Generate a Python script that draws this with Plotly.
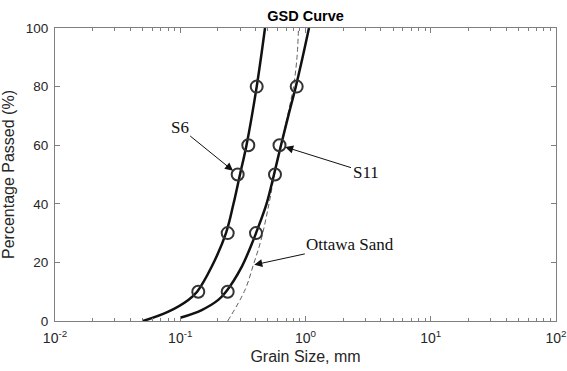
import math
import plotly.graph_objects as go

# ---- data ----
s6_curve_d = [0.0505, 0.0803, 0.116, 0.1363, 0.178, 0.2318, 0.2661, 0.2999, 0.338, 0.4077, 0.475]
s6_curve_p = [0, 3.2, 7.2, 10, 18.5, 30, 40, 50, 60, 80, 100]
s6_pts_d = [0.1393, 0.2392, 0.2875, 0.3495, 0.4077]
s6_pts_p = [10, 30, 50, 60, 80]

s11_curve_d = [0.100, 0.1483, 0.2012, 0.2318, 0.3094, 0.383, 0.4025,
               0.4884, 0.5604, 0.6374, 0.7290, 0.8369, 0.9482, 1.066]
s11_curve_p = [1.1, 3.75, 7.2, 10, 18.5, 27.6, 30,
               40, 50, 60, 70, 80, 90, 100]
s11_pts_d = [0.2392, 0.4025, 0.5707, 0.6200, 0.8505]
s11_pts_p = [10, 30, 50, 60, 80]

ottawa_d = [0.2392, 0.3289, 0.3830, 0.4413, 0.5112, 0.5655, 0.6374, 0.7184, 0.8020, 0.8554, 0.8792]
ottawa_p = [0, 10.6, 19.1, 27.6, 40, 50, 60, 70, 80, 90, 100]

x_tickvals = [0.01, 0.1, 1, 10, 100]
x_ticktext = ["10<sup>-2</sup>", "10<sup>-1</sup>", "10<sup>0</sup>", "10<sup>1</sup>", "10<sup>2</sup>"]
x_minor = [m * 10 ** e for e in (-2, -1, 0, 1) for m in range(2, 10)]
y_tickvals = [0, 20, 40, 60, 80, 100]

SANS = "Liberation Sans, Arial, sans-serif"
SERIF = "Liberation Serif, Times New Roman, serif"
AXC = "#7f7f7f"
TXT = "#262626"

fig = go.Figure()
fig.add_trace(go.Scatter(x=ottawa_d, y=ottawa_p, mode="lines", line_shape="spline",
                         line=dict(color="#606060", width=1, dash="5px,3px"), showlegend=False))
fig.add_trace(go.Scatter(x=s6_curve_d, y=s6_curve_p, mode="lines", line_shape="spline",
                         line=dict(color="#111111", width=2.5, smoothing=1.0), showlegend=False))
fig.add_trace(go.Scatter(x=s11_curve_d, y=s11_curve_p, mode="lines", line_shape="spline",
                         line=dict(color="#111111", width=2.5, smoothing=1.0), showlegend=False))
for dd, pp in ((s6_pts_d, s6_pts_p), (s11_pts_d, s11_pts_p)):
    fig.add_trace(go.Scatter(x=dd, y=pp, mode="markers", showlegend=False,
                             marker=dict(symbol="circle-open", size=12, color="#333333",
                                         line=dict(width=2, color="#333333"))))

ann_font = dict(family=SERIF, size=17, color="#111111")
arrow = dict(showarrow=True, arrowhead=2, arrowsize=1.6, arrowwidth=1, arrowcolor="#111111", standoff=6)
fig.add_annotation(x=math.log10(s6_pts_d[2]), y=s6_pts_p[2], text="S6", ax=-58, ay=-47,
                   font=ann_font, **arrow)
fig.add_annotation(x=math.log10(s11_pts_d[3]), y=s11_pts_p[3], text="S11", ax=86, ay=27,
                   font=ann_font, **arrow)
arrow_o = dict(arrow, standoff=1)
fig.add_annotation(x=math.log10(ottawa_d[2]), y=ottawa_p[2], text="Ottawa Sand", ax=97, ay=-21,
                   font=ann_font, **arrow_o)

fig.update_layout(
    width=567, height=371,
    margin=dict(l=55, r=11, t=28, b=50, autoexpand=False),
    paper_bgcolor="white", plot_bgcolor="white",
    font=dict(family=SANS, size=13, color=TXT),
    title=dict(text="<b>GSD Curve</b>", x=0.5, xref="paper", y=1 - 16 / 371, yref="container",
               xanchor="center", yanchor="middle", font=dict(family=SANS, size=14.5, color="#000000")),
    xaxis=dict(type="log", range=[-2, 2], tickvals=x_tickvals, ticktext=x_ticktext,
               ticks="inside", ticklen=5, tickcolor=AXC, showline=True, linecolor=AXC, linewidth=1,
               mirror="allticks", showgrid=False, zeroline=False, automargin=False,
               ticklabelstandoff=4,
               minor=dict(ticks="inside", ticklen=3, tickcolor=AXC, tickvals=x_minor, showgrid=False),
               title=dict(text="Grain Size, mm", font=dict(family=SANS, size=16, color=TXT), standoff=6),
               tickfont=dict(family=SANS, size=14, color=TXT)),
    yaxis=dict(range=[0, 100], tickvals=y_tickvals, ticks="inside", ticklen=5, tickcolor=AXC,
               showline=True, linecolor=AXC, linewidth=1, mirror="allticks", showgrid=False,
               zeroline=False, automargin=False, ticklabelstandoff=3,
               title=dict(text="Percentage Passed (%)", font=dict(family=SANS, size=16, color=TXT), standoff=8),
               tickfont=dict(family=SANS, size=13.5, color=TXT)),
)

fig.write_html("out.html")
